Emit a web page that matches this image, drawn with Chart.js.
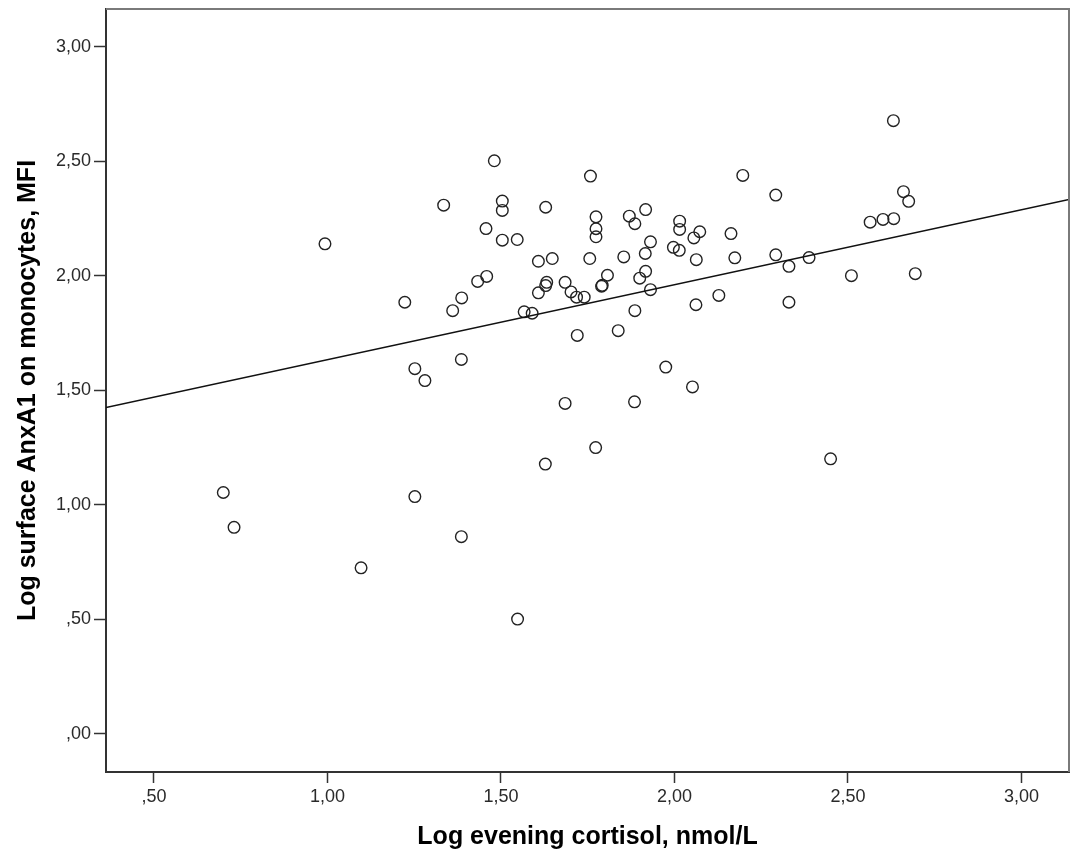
<!DOCTYPE html>
<html>
<head>
<meta charset="utf-8">
<script src="https://cdn.jsdelivr.net/npm/chart.js@4/dist/chart.umd.min.js"></script>
<style>
  html, body { margin: 0; padding: 0; background: #ffffff; }
  #wrap { width: 1075px; height: 852px; }
</style>
</head>
<body>
<div id="wrap"><canvas id="c" width="1075" height="852"></canvas></div>
<script>
// ---- Data ----
const cortisolX = [
  0.700, 0.731, 0.993, 1.097, 1.223, 1.252, 1.281, 1.252, 1.335, 1.361,
  1.387, 1.386, 1.386, 1.433, 1.459, 1.457, 1.481, 1.504, 1.504, 1.504,
  1.547, 1.548, 1.567, 1.590, 1.608, 1.608, 1.629, 1.632, 1.629, 1.628,
  1.648, 1.685, 1.685, 1.702, 1.718, 1.740, 1.720, 1.756, 1.758, 1.774,
  1.774, 1.774, 1.773, 1.790, 1.792, 1.807, 1.838, 1.854, 1.870, 1.886,
  1.886, 1.885, 1.900, 1.917, 1.916, 1.917, 1.931, 1.931, 1.975, 1.997,
  2.014, 2.015, 2.015, 2.052, 2.056, 2.062, 2.063, 2.073, 2.128, 2.163,
  2.174, 2.197, 2.292, 2.292, 2.330, 2.330, 2.388, 2.450, 2.510, 2.564,
  2.601, 2.632, 2.631, 2.660, 2.675, 2.694
];
const anxA1Y = [
  1.053, 0.901, 2.139, 0.724, 1.884, 1.594, 1.542, 1.035, 2.308, 1.847,
  1.903, 1.634, 0.860, 1.975, 1.997, 2.206, 2.502, 2.326, 2.285, 2.155,
  2.158, 0.500, 1.842, 1.836, 2.063, 1.925, 1.957, 1.971, 2.299, 1.177,
  2.075, 1.971, 1.442, 1.929, 1.906, 1.906, 1.739, 2.075, 2.435, 2.257,
  2.205, 2.170, 1.249, 1.954, 1.958, 2.002, 1.760, 2.082, 2.260, 2.227,
  1.847, 1.449, 1.989, 2.019, 2.097, 2.289, 2.148, 1.939, 1.601, 2.124,
  2.111, 2.238, 2.202, 1.514, 2.165, 1.873, 2.070, 2.192, 1.914, 2.184,
  2.078, 2.438, 2.352, 2.091, 2.041, 1.884, 2.079, 1.200, 2.000, 2.234,
  2.246, 2.249, 2.677, 2.367, 2.325, 2.009
];
// Fit line end points (at the plot edges)
const fitLineX = [0.362, 3.137];
const fitLineY = [1.424, 2.333];

const xTickValues = [0.5, 1.0, 1.5, 2.0, 2.5, 3.0];
const xTickLabels = [",50", "1,00", "1,50", "2,00", "2,50", "3,00"];
const yTickValues = [0.0, 0.5, 1.0, 1.5, 2.0, 2.5, 3.0];
const yTickLabels = [",00", ",50", "1,00", "1,50", "2,00", "2,50", "3,00"];

const xRange = [0.362, 3.137];
const yRange = [-0.168, 3.165];

const xTitle = "Log evening cortisol, nmol/L";
const yTitle = "Log surface AnxA1 on monocytes, MFI";

// ---- Build chart ----
const scatterPoints = cortisolX.map((x, i) => ({ x: x, y: anxA1Y[i] }));
const linePoints = fitLineX.map((x, i) => ({ x: x, y: fitLineY[i] }));

const framePlugin = {
  id: 'frame',
  afterDraw(chart) {
    const { ctx, chartArea: a } = chart;
    ctx.save();
    ctx.strokeStyle = '#7a7a7a';
    ctx.lineWidth = 2;
    ctx.beginPath();
    ctx.moveTo(a.left, a.top);
    ctx.lineTo(a.right, a.top);
    ctx.lineTo(a.right, a.bottom);
    ctx.stroke();
    ctx.restore();
  }
};

const tickFont = { family: '"Liberation Sans", Arial, sans-serif', size: 18 };
const titleFont = { family: '"Liberation Sans", Arial, sans-serif', size: 25, weight: 'bold' };

function zeroPad(scale) {
  scale.paddingTop = 0; scale.paddingBottom = 0;
  scale.paddingLeft = 0; scale.paddingRight = 0;
}

new Chart(document.getElementById('c'), {
  type: 'scatter',
  data: {
    datasets: [
      {
        type: 'line',
        data: linePoints,
        borderColor: '#111111',
        borderWidth: 1.4,
        pointRadius: 0,
        fill: false,
        tension: 0
      },
      {
        data: scatterPoints,
        pointRadius: 5.8,
        pointBorderWidth: 1.4,
        borderColor: '#222222',
        backgroundColor: 'rgba(0,0,0,0)',
        pointBackgroundColor: 'rgba(0,0,0,0)',
        pointBorderColor: '#222222'
      }
    ]
  },
  options: {
    responsive: false,
    animation: false,
    devicePixelRatio: 1,
    layout: { autoPadding: false, padding: { left: 0, right: 6, top: 9, bottom: 0 } },
    plugins: { legend: { display: false }, tooltip: { enabled: false } },
    scales: {
      x: {
        type: 'linear',
        min: xRange[0],
        max: xRange[1],
        afterBuildTicks(scale) { scale.ticks = xTickValues.map(v => ({ value: v })); },
        afterFit(scale) { scale.height = 80; zeroPad(scale); },
        ticks: {
          font: tickFont,
          color: '#2a2a2a',
          padding: 3,
          maxRotation: 0,
          autoSkip: false,
          callback: (v) => { const i = xTickValues.findIndex(t => Math.abs(t - v) < 1e-6); return i >= 0 ? xTickLabels[i] : ''; }
        },
        grid: { display: true, drawOnChartArea: false, drawTicks: true, tickLength: 11, color: '#333333', tickWidth: 1.5 },
        border: { display: true, color: '#333333', width: 2 },
        title: { display: true, text: xTitle, font: titleFont, color: '#000000', padding: { top: 0, bottom: 0 } }
      },
      y: {
        type: 'linear',
        min: yRange[0],
        max: yRange[1],
        afterBuildTicks(scale) { scale.ticks = yTickValues.map(v => ({ value: v })); },
        afterFit(scale) { scale.width = 106; zeroPad(scale); },
        ticks: {
          font: tickFont,
          color: '#2a2a2a',
          padding: 3,
          autoSkip: false,
          callback: (v) => { const i = yTickValues.findIndex(t => Math.abs(t - v) < 1e-6); return i >= 0 ? yTickLabels[i] : ''; }
        },
        grid: { display: true, drawOnChartArea: false, drawTicks: true, tickLength: 12, color: '#333333', tickWidth: 1.5 },
        border: { display: true, color: '#333333', width: 2 },
        title: { display: true, text: yTitle, font: titleFont, color: '#000000', padding: { top: 13, bottom: 0 } }
      }
    }
  },
  plugins: [framePlugin]
});
</script>
</body>
</html>
